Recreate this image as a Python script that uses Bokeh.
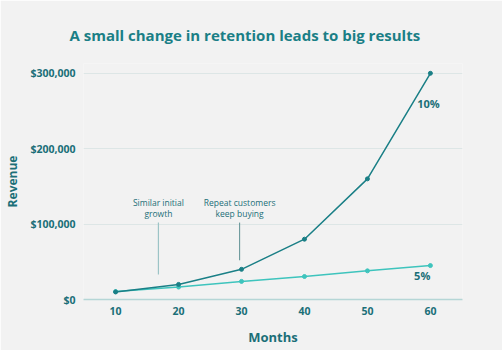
from bokeh.plotting import figure
from bokeh.models import Range1d, NumeralTickFormatter, FixedTicker, ColumnDataSource
from bokeh.core.properties import value
from bokeh.embed import file_html
from bokeh.resources import INLINE

months = [10, 20, 30, 40, 50, 60]
rev_10 = [10000, 20000, 40000, 80000, 160000, 300000]
rev_5 = [10500, 16500, 24000, 30500, 38000, 45000]
y_ticks = [0, 100000, 200000, 300000]

title_text = "A small change in retention leads to big results"
ann1 = ["Similar initial", "growth"]
ann2 = ["Repeat customers", "keep buying"]

BG = "#f2f2f2"
DARK = "#1a7f86"
LIGHT = "#3ec4bd"
TXT = "#1b6f78"
FONT = "Open Sans"

p = figure(width=502, height=350, output_backend="svg", toolbar_location=None,
           x_range=Range1d(4.9, 65.1), y_range=Range1d(0, 313000),
           background_fill_color=BG, border_fill_color=BG,
           min_border_left=83, min_border_right=40, min_border_top=63, min_border_bottom=51)
p.outline_line_color = None

p.title.text = title_text
p.title.align = "left"
p.title.offset = -14
p.title.text_font = FONT
p.title.text_font_size = "15px"
p.title.text_font_style = "bold"
p.title.text_color = DARK
p.title.standoff = 38

p.xgrid.grid_line_color = None
p.ygrid.grid_line_color = "#dde6e6"
p.ygrid.grid_line_width = 1

p.xaxis.ticker = FixedTicker(ticks=months)
p.yaxis.ticker = FixedTicker(ticks=y_ticks)
p.yaxis.formatter = NumeralTickFormatter(format="$0,0")

for ax in (p.xaxis[0], p.yaxis[0]):
    ax.major_tick_line_color = None
    ax.minor_tick_line_color = None
    ax.major_label_text_font = FONT
    ax.major_label_text_font_style = "bold"
    ax.major_label_text_font_size = "10.5px"
    ax.major_label_text_color = TXT
    ax.axis_label_text_font = FONT
    ax.axis_label_text_font_style = "bold"
    ax.axis_label_text_color = TXT

p.xaxis.axis_line_color = "#b5d6d6"
p.xaxis.axis_line_width = 1.5
p.xaxis.major_label_standoff = 1
p.xaxis.axis_label = "Months"
p.xaxis.axis_label_text_font_size = "13px"
p.xaxis.axis_label_standoff = 10

p.yaxis.axis_line_color = None
p.yaxis.major_label_standoff = 2
p.yaxis.axis_label = "Revenue"
p.yaxis.axis_label_text_font_size = "12px"
p.yaxis.axis_label_standoff = 6

src = ColumnDataSource(dict(m=months, r10=rev_10, r5=rev_5))
p.line("m", "r5", source=src, line_color=LIGHT, line_width=1.5)
p.scatter("m", "r5", source=src, size=4, color=LIGHT)
p.line("m", "r10", source=src, line_color=DARK, line_width=1.5)
p.scatter("m", "r10", source=src, size=4, color=DARK)

# annotation leader lines
p.segment(x0=[16.8], y0=[102000], x1=[16.8], y1=[33000], line_color="#9cc4c6", line_width=1.2)
p.segment(x0=[29.7], y0=[102000], x1=[29.7], y1=[52000], line_color="#5e8f93", line_width=1)

p.text(x=[16.8, 16.8], y=[128500, 114000], text=ann1, text_align="center", text_baseline="middle",
       text_font=value(FONT), text_font_size="8.5px", text_color=TXT)
p.text(x=[29.7, 29.7], y=[128500, 114000], text=ann2, text_align="center", text_baseline="middle",
       text_font=value(FONT), text_font_size="8.5px", text_color=TXT)

p.text(x=[59.7], y=[260000], text=["10%"], text_align="center", text_baseline="middle",
       text_font=value(FONT), text_font_size="11px", text_font_style="bold", text_color=TXT)
p.text(x=[58.7], y=[31500], text=["5%"], text_align="center", text_baseline="middle",
       text_font=value(FONT), text_font_size="11px", text_font_style="bold", text_color=TXT)

open("out.html", "w").write(file_html(p, INLINE))
